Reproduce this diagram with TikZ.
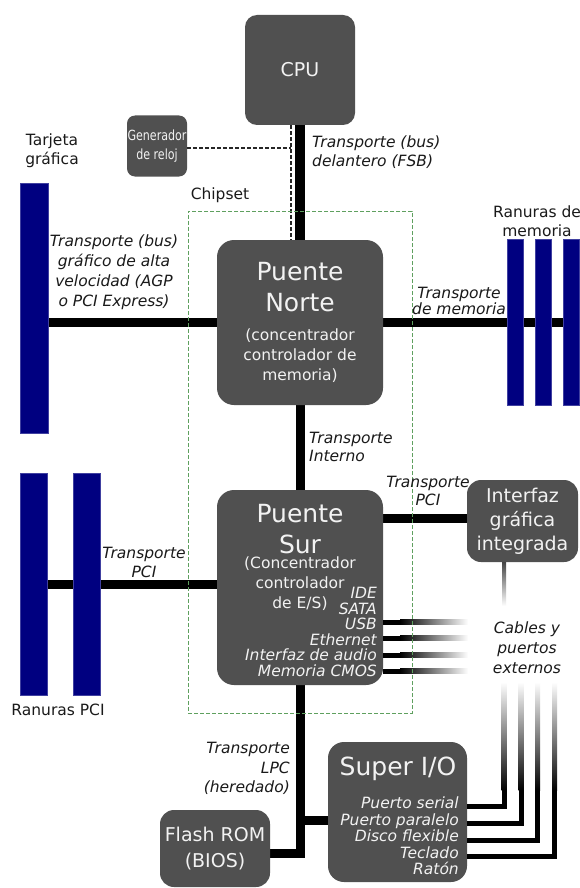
\documentclass[tikz,border=0pt]{standalone}
\usepackage{fontspec}
\setmainfont{DejaVu Sans}
\newfontfamily\condfont[FakeStretch=0.88]{DejaVu Sans Condensed}
\definecolor{boxgray}{HTML}{505050}
\definecolor{navyblue}{HTML}{000080}
\definecolor{chipgreen}{HTML}{5FA05F}
\definecolor{boxtext}{HTML}{F2F2F2}
\definecolor{lbltext}{HTML}{1A1A1A}
\pgfdeclarelayer{bg}
\pgfdeclarelayer{buses}
\pgfsetlayers{bg,buses,main}
\tikzset{
 box/.style={fill=boxgray, rounded corners=#1, inner sep=0pt, text=boxtext, align=center},
 box/.default=14pt,
 bus/.style={line width=9pt, draw=black},
 wire/.style={line width=5pt, draw=black},
 slotbar/.style={fill=navyblue, draw=navyblue!75!white, line width=0.6pt, inner sep=0pt},
 lbl/.style={inner sep=0pt, align=center, text=lbltext, font=\fontsize{15.5}{#1}\selectfont\itshape},
 lbl/.default=19,
 plainlbl/.style={inner sep=0pt, align=center, text=lbltext, font=\fontsize{15.5}{#1}\selectfont},
 plainlbl/.default=19,
 boxlbl/.style={inner sep=0pt, align=center, text=boxtext},
 clk/.style={draw=black!85, line width=1.3pt, dash pattern=on 4pt off 2pt},
}
\begin{document}
\begin{tikzpicture}[x=1pt,y=-1pt]
\begin{pgfonlayer}{bg}
\fill[white] (0,0) rectangle (579,888);
\end{pgfonlayer}
\useasboundingbox (0,0) rectangle (579,888);

% boxes
\node[box=12pt, minimum width=110pt, minimum height=110pt, font=\fontsize{19}{23}\selectfont] (cpu) at (300,70) {CPU};
\node[box=8pt, minimum width=60pt, minimum height=61pt, font=\condfont\fontsize{14}{19}\selectfont] (gen) at (157,146) {Generador\\de reloj};
\node[box=17pt, minimum width=166pt, minimum height=165pt] (nb) at (300,322.5) {};
\node[box=17pt, minimum width=166pt, minimum height=195pt] (sb) at (300,587.5) {};
\node[box=14pt, minimum width=111pt, minimum height=82pt, font=\fontsize{19}{24}\selectfont] (igi) at (522.5,521) {Interfaz\\gráfica\\integrada};
\node[box=16pt, minimum width=139pt, minimum height=140pt] (sio) at (397.5,812) {};
\node[box=14pt, minimum width=110pt, minimum height=77pt, font=\fontsize{19}{26}\selectfont] (flash) at (215,848.5) {Flash ROM\\(BIOS)};

% texts inside boxes
\node[boxlbl, font=\fontsize{25}{31}\selectfont] (nbt) at (300,287.5) {Puente\\Norte};
\node[boxlbl, font=\fontsize{15.5}{20}\selectfont] (nbs) at (300,355.5) {(concentrador\\controlador de\\memoria)};
\node[boxlbl, font=\fontsize{25}{31}\selectfont] (sbt) at (300,529) {Puente\\Sur};
\node[boxlbl, font=\fontsize{15.5}{20}\selectfont] (sbs) at (300,584) {(Concentrador\\controlador\\de E/S)};
\node[boxlbl, align=right, anchor=east, font=\fontsize{15.5}{15.6}\selectfont\itshape] (sbi) at (377,632) {IDE\\SATA\\USB\\Ethernet\\Interfaz de audio\\Memoria CMOS};
\node[boxlbl, font=\fontsize{25}{30}\selectfont] (siot) at (398,769) {Super I/O};
\node[boxlbl, align=right, anchor=east, font=\fontsize{15.5}{16.5}\selectfont\itshape] (sioi) at (459,836) {Puerto serial\\Puerto paralelo\\Disco flexible\\Teclado\\Ratón};

% slots
\node[slotbar, minimum width=28pt, minimum height=250pt] (agp) at (34,308) {};
\node[slotbar, minimum width=16pt, minimum height=166pt] (mem1) at (515,322.5) {};
\node[slotbar, minimum width=16pt, minimum height=166pt] (mem2) at (543,322.5) {};
\node[slotbar, minimum width=16pt, minimum height=166pt] (mem3) at (571,322.5) {};
\node[slotbar, minimum width=27pt, minimum height=222pt] (pci1) at (33.5,584) {};
\node[slotbar, minimum width=27pt, minimum height=222pt] (pci2) at (86.5,584) {};

% buses
\begin{pgfonlayer}{buses}
\draw[bus, line width=10pt] (cpu.south) -- (nb.north);
\draw[bus] (nb.west) -- (nb.west -| agp.east);
\draw[bus] (nb.east) -- (nb.east -| mem3.east);
\draw[bus] (nb.south) -- (sb.north);
\draw[bus] ([yshift=3pt]igi.west) -- ([yshift=3pt]igi.west -| sb.east);
\draw[bus] (sb.west |- pci1.east) -- (pci1.east);
\draw[bus, line join=miter] (sb.south) |- ([yshift=-4.5pt]flash.east);
\draw[bus] ([yshift=-8pt]sio.west) -- ([yshift=-8pt]sio.west -| sb.south);
\end{pgfonlayer}

% clock
\coordinate (clkj) at (291,148);
\draw[clk] (gen.east |- clkj) -- (clkj);
\draw[clk] (cpu.south -| clkj) -- (nb.north -| clkj);

% south bridge external wires
\foreach \yy in {622,638,655,671} {
  \draw[wire] (sb.east |- 0,\yy) -- (401,\yy);
  \shade[left color=black, right color=white] (400,\yy-2.5) rectangle (468,\yy+2.5);
}
% integrated graphics output
\shade[top color=boxgray!85!black, bottom color=white] (502,562) rectangle (506,606);

% super I/O wires
\foreach \yy/\xx in {806/504, 823/521, 840/537.5, 856/554.5} {
  \draw[wire, line join=miter] (sio.east |- 0,\yy) -| (\xx,790);
  \shade[top color=white, bottom color=black] (\xx-2.5,682) rectangle (\xx+2.5,790.5);
}

% chipset frame
\node[draw=chipgreen, line width=0.9pt, dash pattern=on 4pt off 2pt, minimum width=224pt, minimum height=502pt, inner sep=0pt] (chipset) at (300,462) {};

% labels
\node[plainlbl] (chiplbl) at (220,195) {Chipset};
\node[lbl, anchor=west, align=left] (fsbl) at (312,152) {Transporte (bus)\\delantero (FSB)};
\node[plainlbl] (agplbl) at (52,151) {Tarjeta\\gráfica};
\node[lbl=20] (agpbus) at (114,272.5) {Transporte (bus)\\gráfico de alta\\velocidad (AGP\\o PCI Express)};
\node[lbl=15] (membus) at (459,301) {Transporte\\de memoria};
\node[plainlbl] (memlbl) at (537,221) {Ranuras de\\memoria};
\node[lbl=18, anchor=west, align=left] (intl) at (309,447) {Transporte\\Interno};
\node[lbl=18] (pcirl) at (428,491) {Transporte\\PCI};
\node[lbl=20] (cables) at (527,648) {Cables y\\puertos\\externos};
\node[lbl] (pcill) at (144,562.5) {Transporte\\PCI};
\node[plainlbl] (pcislots) at (58,710) {Ranuras PCI};
\node[lbl=19.5, anchor=east, align=right] (lpcl) at (290,768.5) {Transporte\\LPC\\(heredado)};
\end{tikzpicture}
\end{document}
